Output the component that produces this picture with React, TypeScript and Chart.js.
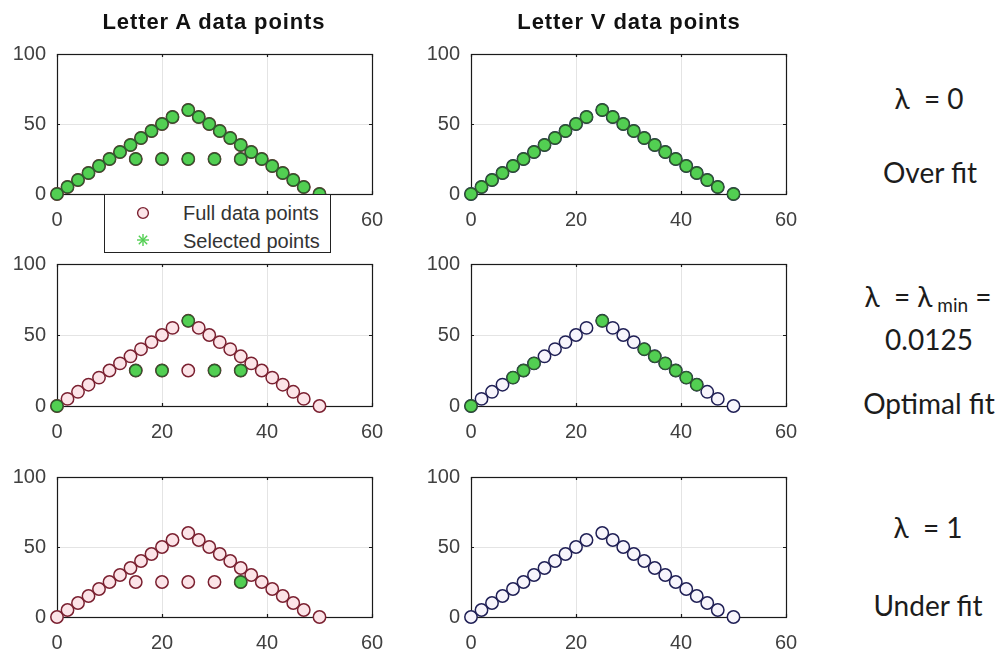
import React, { useEffect, useRef } from "react";
import { Chart, registerables } from "chart.js";

Chart.register(...registerables);

// ---------- data ----------
const X_TICKS = [0, 20, 40, 60];
const Y_TICKS = [0, 50, 100];

// Letter V outline points
const vX = [0, 2, 4, 6, 8, 10, 12, 14, 16, 18, 20, 22, 25, 27, 29, 31, 33, 35, 37, 39, 41, 43, 45, 47, 50];
const vY = [0, 5, 10, 15, 20, 25, 30, 35, 40, 45, 50, 55, 60, 55, 50, 45, 40, 35, 30, 25, 20, 15, 10, 5, 0];

// Letter A = V-shaped outline + crossbar
const barX = [15, 20, 25, 30, 35];
const barY = [25, 25, 25, 25, 25];
const aX = [...vX, ...barX];
const aY = [...vY, ...barY];

// Selected points for each lambda
const selA0X = aX;
const selA0Y = aY;
const selV0X = vX;
const selV0Y = vY;

const selAminX = [0, 25, 15, 20, 30, 35];
const selAminY = [0, 60, 25, 25, 25, 25];
const selVminX = [0, 8, 10, 12, 25, 33, 35, 37, 39, 41, 43];
const selVminY = [0, 20, 25, 30, 60, 40, 35, 30, 25, 20, 15];

const selA1X = [35];
const selA1Y = [25];
const selV1X: number[] = [];
const selV1Y: number[] = [];

const LABELS_TITLE = ["Letter A data points", "Letter V data points"];
const LEGEND_LABELS = ["Full data points", "Selected points"];

// ---------- styles ----------
const FONT = "'Liberation Sans', Arial, Helvetica, sans-serif";
const TICK_COLOR = "#404040";
const GREEN = "#52cf52";
const GREEN_EDGE = "#2e5c2e";
const A_EDGE = "#7a2030";
const A_FILL = "#fce4e8";
const V_EDGE = "#1f1f55";
const V_FILL = "#f7f5fc";

const Y_AXIS_W = 55;
const X_AXIS_H = 40;
const PAD_TOP = 12;
const PAD_RIGHT = 28;

const zip = (xs: number[], ys: number[]) => xs.map((x, i) => ({ x, y: ys[i] }));

const framePlugin = {
  id: "frame",
  beforeDatasetsDraw(chart: any) {
    const { ctx, chartArea: a, scales } = chart;
    ctx.save();
    ctx.strokeStyle = "#1a1a1a";
    ctx.lineWidth = 1.2;
    ctx.strokeRect(Math.round(a.left) + 0.5, Math.round(a.top) + 0.5, Math.round(a.right - a.left), Math.round(a.bottom - a.top));
    // inward ticks
    const tl = 3;
    ctx.beginPath();
    for (const v of X_TICKS) {
      const px = Math.round(scales.x.getPixelForValue(v)) + 0.5;
      ctx.moveTo(px, a.bottom);
      ctx.lineTo(px, a.bottom - tl);
      ctx.moveTo(px, a.top);
      ctx.lineTo(px, a.top + tl);
    }
    for (const v of Y_TICKS) {
      const py = Math.round(scales.y.getPixelForValue(v)) + 0.5;
      ctx.moveTo(a.left, py);
      ctx.lineTo(a.left + tl, py);
      ctx.moveTo(a.right, py);
      ctx.lineTo(a.right - tl, py);
    }
    ctx.stroke();
    ctx.restore();
  },
};

type PanelProps = {
  left: number;
  top: number;
  w: number;
  h: number;
  fullX: number[];
  fullY: number[];
  selX: number[];
  selY: number[];
  edge: string;
  fill: string;
};

function Panel(p: PanelProps) {
  const ref = useRef<HTMLCanvasElement>(null);
  const cw = p.w + Y_AXIS_W + PAD_RIGHT;
  const ch = p.h + PAD_TOP + X_AXIS_H;
  useEffect(() => {
    const chart = new Chart(ref.current!, {
      type: "scatter",
      data: {
        datasets: [
          {
            data: zip(p.selX, p.selY),
            order: 0,
            pointRadius: 6,
            pointBackgroundColor: GREEN,
            pointBorderColor: GREEN_EDGE,
            pointBorderWidth: 1.3,
            showLine: false,
            clip: false,
          } as any,
          {
            data: zip(p.fullX, p.fullY),
            order: 1,
            pointRadius: 6.2,
            pointBackgroundColor: p.fill,
            pointBorderColor: p.edge,
            pointBorderWidth: 1.5,
            showLine: false,
            clip: false,
          } as any,
        ],
      },
      options: {
        responsive: false,
        animation: false,
        devicePixelRatio: 1,
        events: [],
        layout: { padding: { left: 0, top: PAD_TOP, right: PAD_RIGHT, bottom: 0 } },
        plugins: { legend: { display: false }, tooltip: { enabled: false } },
        scales: {
          x: {
            type: "linear",
            min: 0,
            max: 60,
            afterBuildTicks: (s: any) => {
              s.ticks = X_TICKS.map((v) => ({ value: v }));
            },
            afterFit: (s: any) => {
              s.height = X_AXIS_H;
            },
            grid: { color: "#e4e4e4", lineWidth: 1, drawTicks: false },
            border: { display: false },
            ticks: { color: TICK_COLOR, font: { family: FONT, size: 20 }, padding: 14, maxRotation: 0, autoSkip: false },
          },
          y: {
            type: "linear",
            min: 0,
            max: 100,
            afterBuildTicks: (s: any) => {
              s.ticks = Y_TICKS.map((v) => ({ value: v }));
            },
            afterFit: (s: any) => {
              s.width = Y_AXIS_W;
            },
            grid: { color: "#e4e4e4", lineWidth: 1, drawTicks: false },
            border: { display: false },
            ticks: { color: TICK_COLOR, font: { family: FONT, size: 20 }, padding: 11 },
          },
        },
      },
      plugins: [framePlugin],
    });
    return () => chart.destroy();
  }, []);
  return (
    <canvas
      ref={ref}
      width={cw}
      height={ch}
      style={{ position: "absolute", left: p.left - Y_AXIS_W, top: p.top - PAD_TOP, width: cw, height: ch }}
    />
  );
}

const centered = (x: number, y: number, extra: React.CSSProperties = {}): React.CSSProperties => ({
  position: "absolute",
  left: x,
  top: y,
  transform: "translate(-50%, -50%)",
  whiteSpace: "nowrap",
  lineHeight: 1,
  ...extra,
});

export default function App() {
  useEffect(() => {
    document.body.style.margin = "0";
  }, []);
  const rightFont: React.CSSProperties = { fontFamily: "Lato, 'Open Sans', sans-serif", fontSize: 28, color: "#1c1c1c" };
  const titleFont: React.CSSProperties = { fontFamily: FONT, fontWeight: "bold", fontSize: 22, letterSpacing: 0.9, color: "#111" };
  const legendText: React.CSSProperties = { position: "absolute", left: 78, transform: "translateY(-50%)", fontFamily: FONT, fontSize: 20, color: "#333", lineHeight: 1, whiteSpace: "nowrap" };
  const L = 57, R = 471, W = 315;
  return (
    <div style={{ position: "fixed", left: 0, top: 0, width: 1003, height: 653, background: "#fff", overflow: "hidden" }}>
      <Panel left={L} top={43} w={W} h={151} fullX={aX} fullY={aY} selX={selA0X} selY={selA0Y} edge={A_EDGE} fill={A_FILL} />
      <Panel left={R} top={43} w={W} h={151} fullX={vX} fullY={vY} selX={selV0X} selY={selV0Y} edge={V_EDGE} fill={V_FILL} />
      <Panel left={L} top={253} w={W} h={153} fullX={aX} fullY={aY} selX={selAminX} selY={selAminY} edge={A_EDGE} fill={A_FILL} />
      <Panel left={R} top={253} w={W} h={153} fullX={vX} fullY={vY} selX={selVminX} selY={selVminY} edge={V_EDGE} fill={V_FILL} />
      <Panel left={L} top={466} w={W} h={151} fullX={aX} fullY={aY} selX={selA1X} selY={selA1Y} edge={A_EDGE} fill={A_FILL} />
      <Panel left={R} top={466} w={W} h={151} fullX={vX} fullY={vY} selX={selV1X} selY={selV1Y} edge={V_EDGE} fill={V_FILL} />

      <div style={centered(214, 22, titleFont)}>{LABELS_TITLE[0]}</div>
      <div style={centered(629, 22, titleFont)}>{LABELS_TITLE[1]}</div>

      {/* legend */}
      <div
        style={{
          position: "absolute",
          left: 104,
          top: 194,
          width: 227,
          height: 59,
          border: "1px solid #222",
          background: "#fff",
          boxSizing: "border-box",
        }}
      >
        <svg width={30} height={58} style={{ position: "absolute", left: 23, top: 0 }}>
          <circle cx={15} cy={18} r={5.4} fill={A_FILL} stroke={A_EDGE} strokeWidth={1.4} />
          <g stroke={GREEN} strokeWidth={1.4}>
            <line x1={15} y1={39} x2={15} y2={51} />
            <line x1={9} y1={45} x2={21} y2={45} />
            <line x1={10.8} y1={40.8} x2={19.2} y2={49.2} />
            <line x1={10.8} y1={49.2} x2={19.2} y2={40.8} />
          </g>
        </svg>
        <div style={{ ...legendText, top: 18 }}>{LEGEND_LABELS[0]}</div>
        <div style={{ ...legendText, top: 46 }}>{LEGEND_LABELS[1]}</div>
      </div>

      {/* right-hand annotations */}
      <div style={centered(929, 98, rightFont)}>λ&nbsp;&nbsp;= 0</div>
      <div style={centered(930, 172, rightFont)}>Over fit</div>
      <div style={centered(928, 296, rightFont)}>
        λ&nbsp;&nbsp;= λ<span style={{ fontSize: 19, position: "relative", top: 5 }}>&nbsp;min</span> =
      </div>
      <div style={centered(929, 339, rightFont)}>0.0125</div>
      <div style={centered(929, 403, rightFont)}>Optimal fit</div>
      <div style={centered(928, 527, rightFont)}>λ&nbsp;&nbsp;= 1</div>
      <div style={centered(928, 605, rightFont)}>Under fit</div>
    </div>
  );
}
